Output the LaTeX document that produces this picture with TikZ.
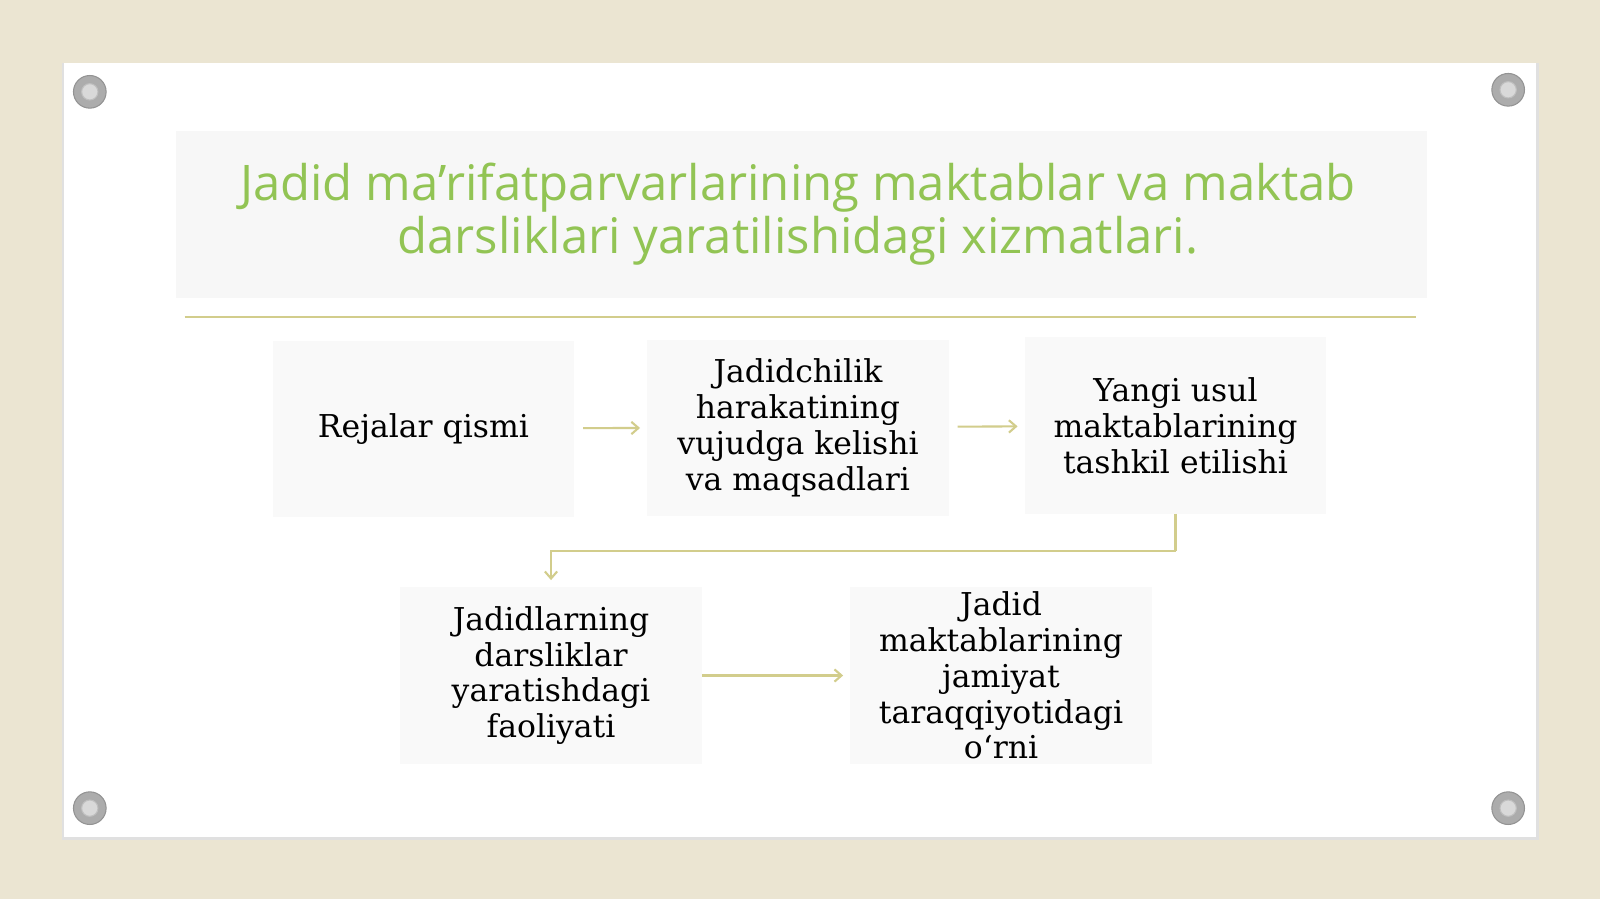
\documentclass[tikz,border=0pt]{standalone}
\usepackage{fontspec}
\setmainfont{DejaVu Serif}
\newfontfamily\titlefont{Open Sans}
\usetikzlibrary{arrows.meta}

\definecolor{canvas}{RGB}{235,229,210}
\definecolor{titlegreen}{RGB}{146,196,84}
\definecolor{olive}{RGB}{210,205,140}

\tikzset{
	stepbox/.style={fill=black!2.5, minimum width=6.02cm, minimum height=3.52cm, align=center, inner sep=2pt,
		font=\fontsize{17.9}{20.4}\selectfont},
	flow/.style={color=olive, line width=1.2, -{Straight Barb[length=4pt,width=7pt]}},
	screw/.style={fill=gray!65, draw=gray!85, line width=0.6}
}

\begin{document}
\begin{tikzpicture}[x={(0.020408cm,0)}, y={(0,-0.020408cm)}]

		\useasboundingbox (0,0) rectangle (1568,881);
		\fill[canvas] (0,0) rectangle (1568,881);

		% make the white board with its shadow
		\fill[black!12] (61,62) rectangle (1508,823);
		\fill[white] (63,62) rectangle (1505,820);

		% make the 4 screws
		\foreach \sx/\sy in {88/90, 1478/88, 88/792, 1478/792} {
			\filldraw[screw] (\sx,\sy) circle (16);
			\filldraw[fill=gray!30, draw=gray!50, line width=0.6] (\sx,\sy) circle (8);
		}

		% make the title and the line below it
		\fill[black!3] (172,128) rectangle (1398,292);
		\node[align=center, text=titlegreen, font=\titlefont\fontsize{27.9}{30.2}\selectfont] (title) at (782,210)
			{Jadid ma’rifatparvarlarining maktablar va maktab\\darsliklari yaratilishidagi xizmatlari.};
		\draw[olive, line width=1.2] (181,311) -- (1388,311);

		% make the 5 boxes
		\node[stepbox] (reja) at (415,420) {Rejalar qismi};
		\node[stepbox] (harakat) at (782,419) {Jadidchilik\\harakatining\\vujudga kelishi\\va maqsadlari};
		\node[stepbox] (usul) at (1152,417) {Yangi usul\\maktablarining\\tashkil etilishi};
		\node[stepbox] (darslik) at (540,662) {Jadidlarning\\darsliklar\\yaratishdagi\\faoliyati};
		\node[stepbox] (orni) at (981,662) {Jadid\\maktablarining\\jamiyat\\taraqqiyotidagi\\o‘rni};

		% make the arrows between the boxes
		\coordinate (bend) at (1152,540);
		\draw[flow, shorten <=5pt, shorten >=4pt] (reja) -- (harakat);
		\draw[flow, shorten <=5pt, shorten >=4pt] (harakat) -- (usul);
		\draw[flow, -] (usul.south) -- (bend);
		\draw[flow, shorten >=4pt] (bend) -| (darslik.north);
		\draw[flow, shorten >=4pt] (darslik) -- (orni);

	\end{tikzpicture}
\end{document}
